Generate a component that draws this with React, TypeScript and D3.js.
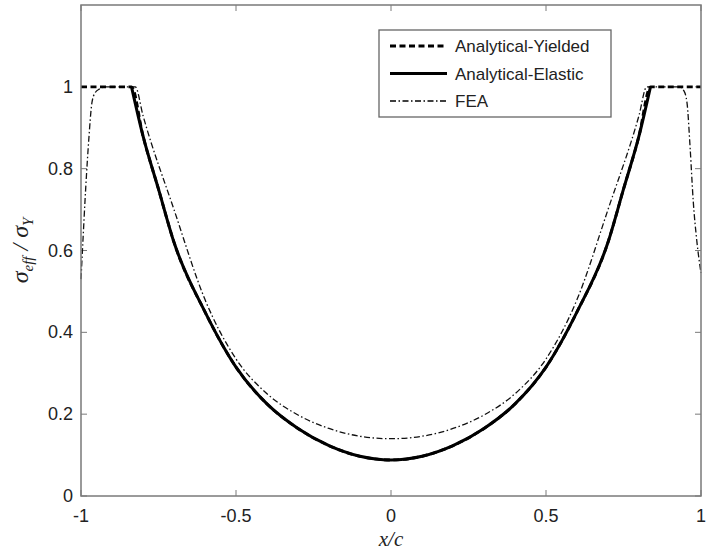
import React from "react";
import * as d3 from "d3";

const xTicks = [-1, -0.5, 0, 0.5, 1];
const yTicks = [0, 0.2, 0.4, 0.6, 0.8, 1];
const xTickLabels = ["-1", "-0.5", "0", "0.5", "1"];
const yTickLabels = ["0", "0.2", "0.4", "0.6", "0.8", "1"];

// Analytical-Elastic (solid)
const elasticX = [-0.837, -0.8, -0.75, -0.7, -0.6, -0.5, -0.4, -0.3, -0.2, -0.1, 0, 0.1, 0.2, 0.3, 0.4, 0.5, 0.6, 0.7, 0.75, 0.8, 0.837];
const elasticY = [1.0, 0.88, 0.75, 0.62, 0.45, 0.315, 0.225, 0.165, 0.123, 0.097, 0.088, 0.097, 0.123, 0.165, 0.225, 0.315, 0.45, 0.62, 0.75, 0.88, 1.0];

// Analytical-Yielded (dashed)
const yieldedX = [-1, -0.837, -0.8, -0.75, -0.7, -0.6, -0.5, -0.4, -0.3, -0.2, -0.1, 0, 0.1, 0.2, 0.3, 0.4, 0.5, 0.6, 0.7, 0.75, 0.8, 0.837, 1];
const yieldedY = [1.0, 1.0, 0.88, 0.75, 0.62, 0.45, 0.315, 0.225, 0.165, 0.123, 0.097, 0.088, 0.097, 0.123, 0.165, 0.225, 0.315, 0.45, 0.62, 0.75, 0.88, 1.0, 1.0];

// FEA (dash-dot)
const feaX = [-1, -0.994, -0.985, -0.975, -0.965, -0.955, -0.94, -0.92, -0.825, -0.8, -0.7, -0.6, -0.5, -0.4, -0.3, -0.2, -0.1, 0, 0.1, 0.2, 0.3, 0.4, 0.5, 0.6, 0.7, 0.8, 0.825, 0.93, 0.945, 0.955, 0.965, 0.975, 0.987, 1];
const feaY = [0.53, 0.62, 0.75, 0.87, 0.96, 0.985, 0.995, 1.0, 1.0, 0.93, 0.7, 0.48, 0.335, 0.25, 0.198, 0.165, 0.146, 0.14, 0.146, 0.165, 0.198, 0.25, 0.335, 0.48, 0.7, 0.93, 1.0, 1.0, 0.99, 0.96, 0.85, 0.72, 0.62, 0.545];

const legendLabels = ["Analytical-Yielded", "Analytical-Elastic", "FEA"];

const W = 707;
const H = 554;
const M = { left: 81, right: 6, top: 5, bottom: 58 };

export default function App() {
  const x = d3.scaleLinear().domain([-1, 1]).range([M.left, W - M.right]);
  const y = d3.scaleLinear().domain([0, 1.2]).range([H - M.bottom, M.top]);
  const line = d3
    .line<[number, number]>()
    .x((d) => x(d[0]))
    .y((d) => y(d[1]))
    .curve(d3.curveMonotoneX);
  const zip = (a: number[], b: number[]) => a.map((v, i) => [v, b[i]] as [number, number]);

  const x0 = M.left, x1 = W - M.right, y0 = H - M.bottom, y1 = M.top;
  const axisColor = "#7a7a7a";
  const textColor = "#222";
  const font = "Arial, 'Liberation Sans', sans-serif";

  const styles = [
    { dash: "6,3.5", width: 2.8 },
    { dash: "none", width: 3 },
    { dash: "6,2.5,1.5,2.5", width: 1.3 },
  ];

  const lx = 379, ly = 30, lw = 232, lh = 87;

  return (
    <svg width={W} height={H} style={{ position: "absolute", left: 0, top: 0, background: "#fff" }}>
      <rect x={0} y={0} width={W} height={H} fill="#fff" />
      {xTicks.map((t) => (
        <g key={"xt" + t}>
          <line x1={x(t)} x2={x(t)} y1={y0} y2={y0 - 6} stroke={axisColor} strokeWidth={1} />
          <line x1={x(t)} x2={x(t)} y1={y1} y2={y1 + 6} stroke={axisColor} strokeWidth={1} />
        </g>
      ))}
      {yTicks.map((t) => (
        <g key={"yt" + t}>
          <line x1={x0} x2={x0 + 6} y1={y(t)} y2={y(t)} stroke={axisColor} strokeWidth={1} />
          <line x1={x1} x2={x1 - 6} y1={y(t)} y2={y(t)} stroke={axisColor} strokeWidth={1} />
        </g>
      ))}
      <path d={line(zip(feaX, feaY)) || ""} fill="none" stroke="#111" strokeWidth={styles[2].width} strokeDasharray={styles[2].dash} />
      <path d={line(zip(yieldedX, yieldedY)) || ""} fill="none" stroke="#000" strokeWidth={styles[0].width} strokeDasharray={styles[0].dash} />
      <path d={line(zip(elasticX, elasticY)) || ""} fill="none" stroke="#000" strokeWidth={styles[1].width} />
      <rect x={x0} y={y1} width={x1 - x0} height={y0 - y1} fill="none" stroke={axisColor} strokeWidth={1.5} />
      {xTicks.map((t, i) => (
        <text key={"xl" + t} x={x(t)} y={y0 + 26} textAnchor="middle" fontFamily={font} fontSize={18} fill={textColor}>
          {xTickLabels[i]}
        </text>
      ))}
      {yTicks.map((t, i) => (
        <text key={"yl" + t} x={x0 - 8} y={y(t) + 6} textAnchor="end" fontFamily={font} fontSize={18} fill={textColor}>
          {yTickLabels[i]}
        </text>
      ))}
      <text x={(x0 + x1) / 2} y={546} textAnchor="middle" fontFamily="'Liberation Serif', 'DejaVu Serif', serif" fontStyle="italic" fontSize={21} fill={textColor}>
        x/c
      </text>
      <text
        transform={`translate(28, ${(y0 + y1) / 2}) rotate(-90)`}
        textAnchor="middle"
        fontFamily="'Liberation Serif', 'DejaVu Serif', serif"
        fontStyle="italic"
        fontSize={24}
        fill={textColor}
      >
        σ<tspan fontSize={15} dy={5}>eff</tspan>
        <tspan dy={-5}> / σ</tspan>
        <tspan fontSize={15} dy={5}>Y</tspan>
      </text>
      <rect x={lx} y={ly} width={lw} height={lh} fill="#fff" stroke="#666" strokeWidth={1.3} />
      {legendLabels.map((lab, i) => {
        const yy = ly + 16 + i * 27.5;
        return (
          <g key={lab}>
            <line x1={390} x2={447} y1={yy} y2={yy} stroke="#000" strokeWidth={styles[i].width} strokeDasharray={styles[i].dash} />
            <text x={455} y={yy + 6} fontFamily={font} fontSize={17} fill={textColor}>
              {lab}
            </text>
          </g>
        );
      })}
    </svg>
  );
}
